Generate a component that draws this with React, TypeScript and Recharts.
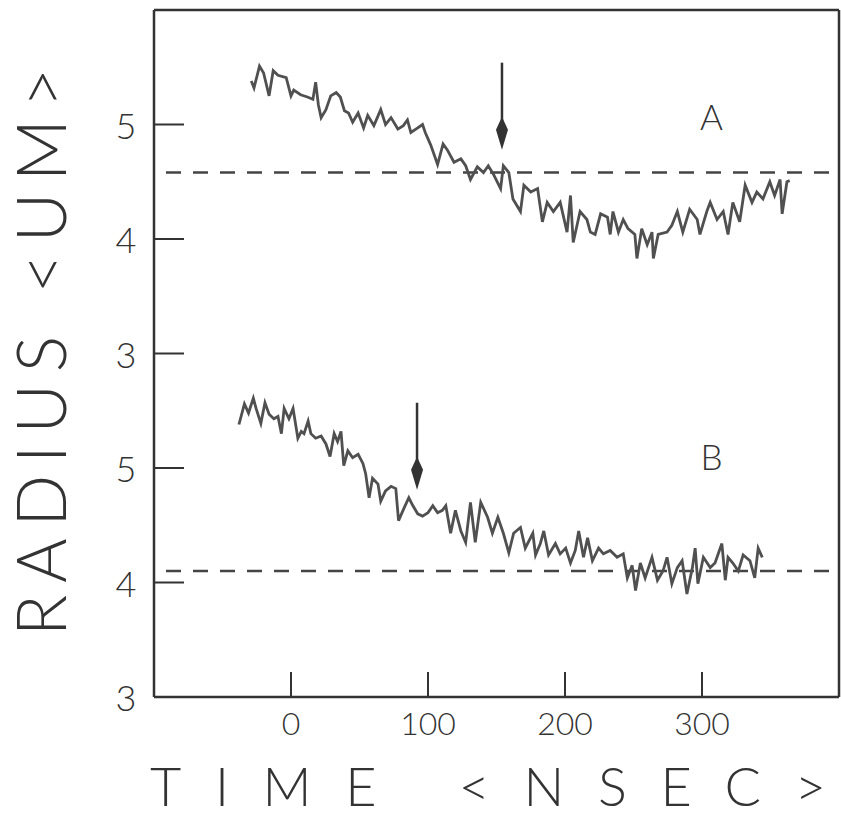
import React from 'react';
import { LineChart, Line, XAxis, YAxis, ReferenceLine, ReferenceDot } from 'recharts';

const ink = '#333';
const traceInk = '#505050';
const font = 'Lato, "DejaVu Sans", sans-serif';

// [time ns, radius um]
const traceA: [number, number][] = [
  [-29, 5.38], [-27, 5.32], [-23, 5.51], [-20, 5.45], [-16, 5.25], [-13, 5.47], [-9.5, 5.43], [-3.5, 5.41],
  [0, 5.25], [2, 5.3], [7, 5.26], [12, 5.24], [16, 5.22], [18, 5.37], [20, 5.17], [22, 5.06],
  [25.5, 5.13], [29, 5.25], [33, 5.28], [36, 5.24], [39, 5.12], [42, 5.1], [45, 5.02], [49, 5.1],
  [53, 4.97], [56, 5.08], [60.5, 4.99], [65.5, 5.13], [69, 5.0], [73, 5.06], [78, 4.96], [82, 4.99],
  [85, 5.04], [87.5, 4.93], [92.5, 4.97], [96, 5.0], [98, 4.93], [102, 4.82], [107, 4.65], [111, 4.83],
  [114, 4.78], [119, 4.67], [124, 4.7], [127.5, 4.64], [131, 4.52], [136, 4.63], [140.5, 4.58], [144, 4.64],
  [148, 4.56], [153, 4.44], [155, 4.64], [159, 4.58], [162, 4.35], [167.5, 4.24], [170, 4.47], [175, 4.41],
  [180, 4.44], [183.5, 4.15], [187, 4.32], [191.5, 4.24], [196.5, 4.32], [201.5, 4.06], [204, 4.38], [206, 3.97],
  [211, 4.24], [216, 4.17], [218.5, 4.06], [222, 4.04], [226, 4.22], [231, 4.19], [233, 4.04], [235, 4.24],
  [239, 4.06], [242.5, 4.17], [246, 4.09], [251, 4.04], [252.5, 3.83], [256, 4.09], [260, 3.95], [263.5, 4.06],
  [264.5, 3.83], [268, 4.04], [274.5, 4.06], [278, 4.12], [282, 4.24], [286, 4.06], [291, 4.26], [296.5, 4.17],
  [298.5, 4.04], [303.5, 4.24], [306, 4.32], [311, 4.17], [315.5, 4.24], [319, 4.04], [322.5, 4.32], [327.5, 4.15],
  [331.5, 4.47], [336.5, 4.32], [340, 4.41], [344.5, 4.35], [349.5, 4.5], [353, 4.38], [357, 4.52], [358.5, 4.22],
  [362, 4.5], [364, 4.51],
];

const traceB: [number, number][] = [
  [-38, 5.38], [-34, 5.56], [-31, 5.48], [-27.5, 5.61], [-25.5, 5.52], [-22, 5.39], [-19, 5.57], [-16, 5.47],
  [-12.5, 5.43], [-9.5, 5.45], [-7, 5.3], [-5, 5.52], [-1.5, 5.43], [1.5, 5.52], [5, 5.26], [7.5, 5.32],
  [9.5, 5.3], [12.5, 5.41], [14.5, 5.3], [18, 5.26], [22, 5.28], [25.5, 5.21], [28.5, 5.1], [31.5, 5.3],
  [34, 5.23], [36.5, 5.32], [38.5, 5.02], [41.5, 5.15], [45, 5.09], [49, 5.12], [52.5, 5.04], [54.5, 4.95],
  [57, 4.74], [59.5, 4.91], [63.5, 4.86], [65.5, 4.71], [69, 4.8], [73, 4.84], [76.5, 4.82], [78.5, 4.54],
  [82.5, 4.65], [86, 4.74], [89, 4.67], [92.5, 4.6], [96, 4.58], [100, 4.61], [103.5, 4.67], [107, 4.61],
  [110.5, 4.63], [113, 4.67], [116.5, 4.43], [120, 4.63], [124, 4.45], [127.5, 4.35], [131, 4.7], [134.5, 4.35],
  [138.5, 4.7], [143.5, 4.57], [147, 4.43], [151, 4.57], [155, 4.43], [159, 4.26], [162.5, 4.43], [167.5, 4.48],
  [171, 4.3], [176.5, 4.43], [178.5, 4.24], [182, 4.34], [184.5, 4.45], [188, 4.24], [193, 4.34], [196.5, 4.25],
  [200.5, 4.3], [204, 4.17], [207.5, 4.28], [210, 4.45], [213.5, 4.22], [216.5, 4.39], [220, 4.19], [224.5, 4.3],
  [228, 4.25], [233, 4.28], [238, 4.22], [242.5, 4.25], [245.5, 4.04], [249, 4.15], [251.5, 3.93], [255, 4.17],
  [258.5, 4.04], [263.5, 4.22], [267.5, 4.02], [271.5, 4.1], [274.5, 4.22], [278, 3.99], [282, 4.13], [285.5, 4.19],
  [289, 3.9], [293, 4.13], [295, 4.3], [297, 3.99], [301, 4.22], [306, 4.13], [309.5, 4.17], [314.5, 4.34],
  [317, 4.02], [319, 4.22], [322.5, 4.17], [326.5, 4.1], [330, 4.24], [335, 4.19], [338.5, 4.04], [341, 4.3],
  [344, 4.22],
];

// panel B sits one whole panel (3 um) below panel A on the shared scale
const PANEL_B_SHIFT = 3;

const xTicks = [0, 100, 200, 300];
const yTicks = [0, 1, 2, 3, 4, 5];
const yTickLabels = ['3', '4', '5', '3', '4', '5'];

const levelA = 4.58;
const levelB = 4.1;
const arrowA = { t: 154, from: 5.54, to: 4.78 };
const arrowB = { t: 92, from: 5.57, to: 4.81 };
const tagA = { t: 307, r: 5.06, text: 'A' };
const tagB = { t: 307, r: 5.09, text: 'B' };

const dataA = traceA.map(([t, r]) => ({ t, v: r }));
const dataB = traceB.map(([t, r]) => ({ t, v: r - PANEL_B_SHIFT }));

function Arrow(props: any) {
  const { x1, y1, x2, y2 } = props;
  const top = Math.min(y1, y2);
  const tip = Math.max(y1, y2);
  return (
    <g>
      <line x1={x1} y1={top} x2={x2} y2={tip - 18} stroke={ink} strokeWidth={2.5} />
      <polygon
        points={`${x2},${tip} ${x2 - 6},${tip - 20} ${x2},${tip - 33} ${x2 + 6},${tip - 20}`}
        fill={ink}
      />
    </g>
  );
}

const YTick = ({ x, y, payload }: any) => (
  <text x={x} y={y} textAnchor="middle" dominantBaseline="central" fontFamily={font} fontWeight={300} fontSize={36} fill={ink}>
    {yTickLabels[yTicks.indexOf(payload.value)]}
  </text>
);

const XTick = ({ x, y, payload }: any) => (
  <text x={x} y={y} textAnchor="middle" dominantBaseline="central" fontFamily={font} fontWeight={300} fontSize={32} fill={ink}>
    {payload.value}
  </text>
);

const NoTick = () => <g />;

export default function App() {
  return (
    <div style={{ position: 'absolute', left: 0, top: 0, background: '#fff' }}>
      <LineChart width={841} height={819} margin={{ top: 0, right: 0, bottom: 0, left: 0 }}>
        <XAxis
          xAxisId="b"
          dataKey="t"
          type="number"
          domain={[-100, 400]}
          ticks={xTicks}
          height={122}
          tickSize={-25}
          tickMargin={50}
          tick={XTick}
          axisLine={{ stroke: ink, strokeWidth: 2.5 }}
          tickLine={{ stroke: ink, strokeWidth: 2 }}
          label={(p: any) => (
            <text
              x={p.viewBox.x - 4}
              y={p.viewBox.y + 109}
              textLength={676}
              lengthAdjust="spacing"
              fontFamily={font}
              fontWeight={300}
              fontSize={54}
              fill={ink}
            >
              {'TIME <NSEC>'}
            </text>
          )}
        />
        <XAxis
          xAxisId="t"
          orientation="top"
          dataKey="t"
          type="number"
          domain={[-100, 400]}
          ticks={xTicks}
          height={10}
          tickSize={-25}
          tick={NoTick}
          axisLine={{ stroke: ink, strokeWidth: 2.5 }}
          tickLine={{ stroke: ink, strokeWidth: 2 }}
        />
        <YAxis
          yAxisId="v"
          type="number"
          domain={[0, 6]}
          ticks={yTicks}
          width={154}
          tickSize={-30}
          tickMargin={58}
          tick={YTick}
          axisLine={{ stroke: ink, strokeWidth: 2.5 }}
          tickLine={{ stroke: ink, strokeWidth: 2 }}
          label={() => {
            const baseX = 66;
            const y0 = 636;
            return (
              <text
                x={baseX}
                y={y0}
                transform={`rotate(-90 ${baseX} ${y0})`}
                textLength={568}
                lengthAdjust="spacing"
                fontFamily={font}
                fontWeight={300}
                fontSize={68}
                fill={ink}
              >
                {'RADIUS <UM>'}
              </text>
            );
          }}
        />
        <YAxis
          yAxisId="r"
          orientation="right"
          type="number"
          domain={[0, 6]}
          ticks={yTicks.slice(1)}
          width={2}
          tickSize={-30}
          tick={NoTick}
          axisLine={{ stroke: ink, strokeWidth: 2.5 }}
          tickLine={{ stroke: ink, strokeWidth: 2 }}
        />

        <ReferenceLine xAxisId="b" yAxisId="v" y={levelA} stroke="#444" strokeWidth={2.5} strokeDasharray="15 12" strokeDashoffset={15} />
        <ReferenceLine xAxisId="b" yAxisId="v" y={levelB - PANEL_B_SHIFT} stroke="#444" strokeWidth={2.5} strokeDasharray="15 12" strokeDashoffset={15} />

        <Line xAxisId="b" yAxisId="v" data={dataA} dataKey="v" stroke={traceInk} strokeWidth={2.8} strokeLinejoin="miter" dot={false} isAnimationActive={false} />
        <Line xAxisId="b" yAxisId="v" data={dataB} dataKey="v" stroke={traceInk} strokeWidth={2.8} strokeLinejoin="miter" dot={false} isAnimationActive={false} />

        <ReferenceLine
          xAxisId="b"
          yAxisId="v"
          segment={[{ x: arrowA.t, y: arrowA.from }, { x: arrowA.t, y: arrowA.to }]}
          shape={Arrow}
        />
        <ReferenceLine
          xAxisId="b"
          yAxisId="v"
          segment={[{ x: arrowB.t, y: arrowB.from - PANEL_B_SHIFT }, { x: arrowB.t, y: arrowB.to - PANEL_B_SHIFT }]}
          shape={Arrow}
        />

        {[tagA, { ...tagB, r: tagB.r - PANEL_B_SHIFT }].map((tag) => (
          <ReferenceDot
            key={tag.text}
            xAxisId="b"
            yAxisId="v"
            x={tag.t}
            y={tag.r}
            r={0}
            stroke="none"
            label={{ value: tag.text, position: 'center', fontFamily: font, fontWeight: 300, fontSize: 35, fill: ink }}
          />
        ))}
      </LineChart>
    </div>
  );
}
